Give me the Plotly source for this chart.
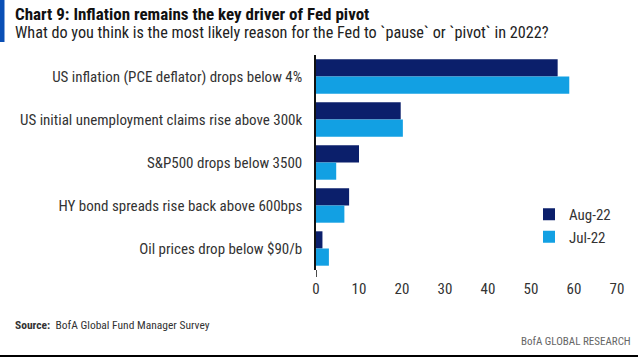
import plotly.graph_objects as go

categories = [
    "US inflation (PCE deflator) drops below 4%",
    "US initial unemployment claims rise above 300k",
    "S&P500 drops below 3500",
    "HY bond spreads rise back above 600bps",
    "Oil prices drop below $90/b",
]
aug22 = [56.2, 19.7, 10.0, 7.7, 1.5]
jul22 = [58.9, 20.2, 4.7, 6.6, 3.0]
x_ticks = [0, 10, 20, 30, 40, 50, 60, 70]

FONT = "Roboto Condensed, Liberation Sans Narrow, DejaVu Sans Condensed, sans-serif"
NAVY = "#0b1f6b"
CYAN = "#12a0e3"

# plot area in pixels
L, R, T, B = 316, 617, 55, 270
PW, PH = R - L, B - T


def px(xp):
    return (xp - L) / PW


def py(yp):
    return (B - yp) / PH


fig = go.Figure()
fig.add_trace(go.Bar(y=categories, x=aug22, name="Aug-22", orientation="h",
                     legendgroup="aug", marker=dict(color=NAVY, line=dict(width=0))))
fig.add_trace(go.Bar(y=categories, x=jul22, name="Jul-22", orientation="h",
                     legendgroup="jul", marker=dict(color=CYAN, line=dict(width=0))))

fig.update_layout(
    width=638, height=358,
    margin=dict(l=L, r=638 - R, t=T, b=358 - B, autoexpand=False),
    paper_bgcolor="white", plot_bgcolor="white",
    barmode="group", bargap=0.2, bargroupgap=0,
    font=dict(family=FONT, size=15, color="#333333"),
    showlegend=True,
    legend=dict(x=px(529), y=py(198), xanchor="left", yanchor="top",
                traceorder="normal", font=dict(size=15, color="#333333"),
                itemwidth=30, tracegroupgap=5, bgcolor="rgba(0,0,0,0)"),
    xaxis=dict(range=[0, 70], tickvals=x_ticks, showgrid=False, zeroline=False,
               showline=False, ticks="", ticklabelstandoff=8, automargin=False,
               tickfont=dict(size=15, color="#333333"), fixedrange=True),
    yaxis=dict(autorange="reversed", showgrid=False, zeroline=False,
               showline=True, linecolor="#111111", linewidth=1.5,
               ticks="", ticklabelstandoff=9, automargin=False,
               tickfont=dict(size=15, color="#333333"), fixedrange=True),
)

# left accent bar
fig.add_shape(type="rect", xref="paper", yref="paper",
              x0=px(0), x1=px(4.5), y0=py(42), y1=py(0),
              fillcolor="#0a4fb5", line=dict(width=0), layer="above")
# bottom black rule
fig.add_shape(type="line", xref="paper", yref="paper",
              x0=px(0), x1=px(638), y0=py(356), y1=py(356),
              line=dict(color="black", width=2))
# axis stub below zero
fig.add_shape(type="line", xref="x", yref="paper", x0=0, x1=0, y0=0, y1=py(277),
              line=dict(color="#111111", width=1.5))

fig.add_annotation(xref="paper", yref="paper", x=px(13), y=py(2),
                   xanchor="left", yanchor="top", showarrow=False,
                   text="<b>Chart 9: Inflation remains the key driver of Fed pivot</b>",
                   font=dict(family=FONT, size=17, color="#111111"))
fig.add_annotation(xref="paper", yref="paper", x=px(13), y=py(21),
                   xanchor="left", yanchor="top", showarrow=False,
                   text="What do you think is the most likely reason for the Fed to `pause` or `pivot` in 2022?",
                   font=dict(family=FONT, size=16.2, color="#222222"))
fig.add_annotation(xref="paper", yref="paper", x=px(13), y=py(325),
                   xanchor="left", yanchor="middle", showarrow=False,
                   text="<b>Source:</b>  BofA Global Fund Manager Survey",
                   font=dict(family=FONT, size=11.5, color="#333333"))
fig.add_annotation(xref="paper", yref="paper", x=px(633), y=py(341),
                   xanchor="right", yanchor="middle", showarrow=False,
                   text="BofA GLOBAL RESEARCH",
                   font=dict(family=FONT, size=11, color="#666666"))

fig.write_html("out.html", config={"displayModeBar": False},
               post_script="document.body.style.margin='0';document.body.style.padding='0';")
